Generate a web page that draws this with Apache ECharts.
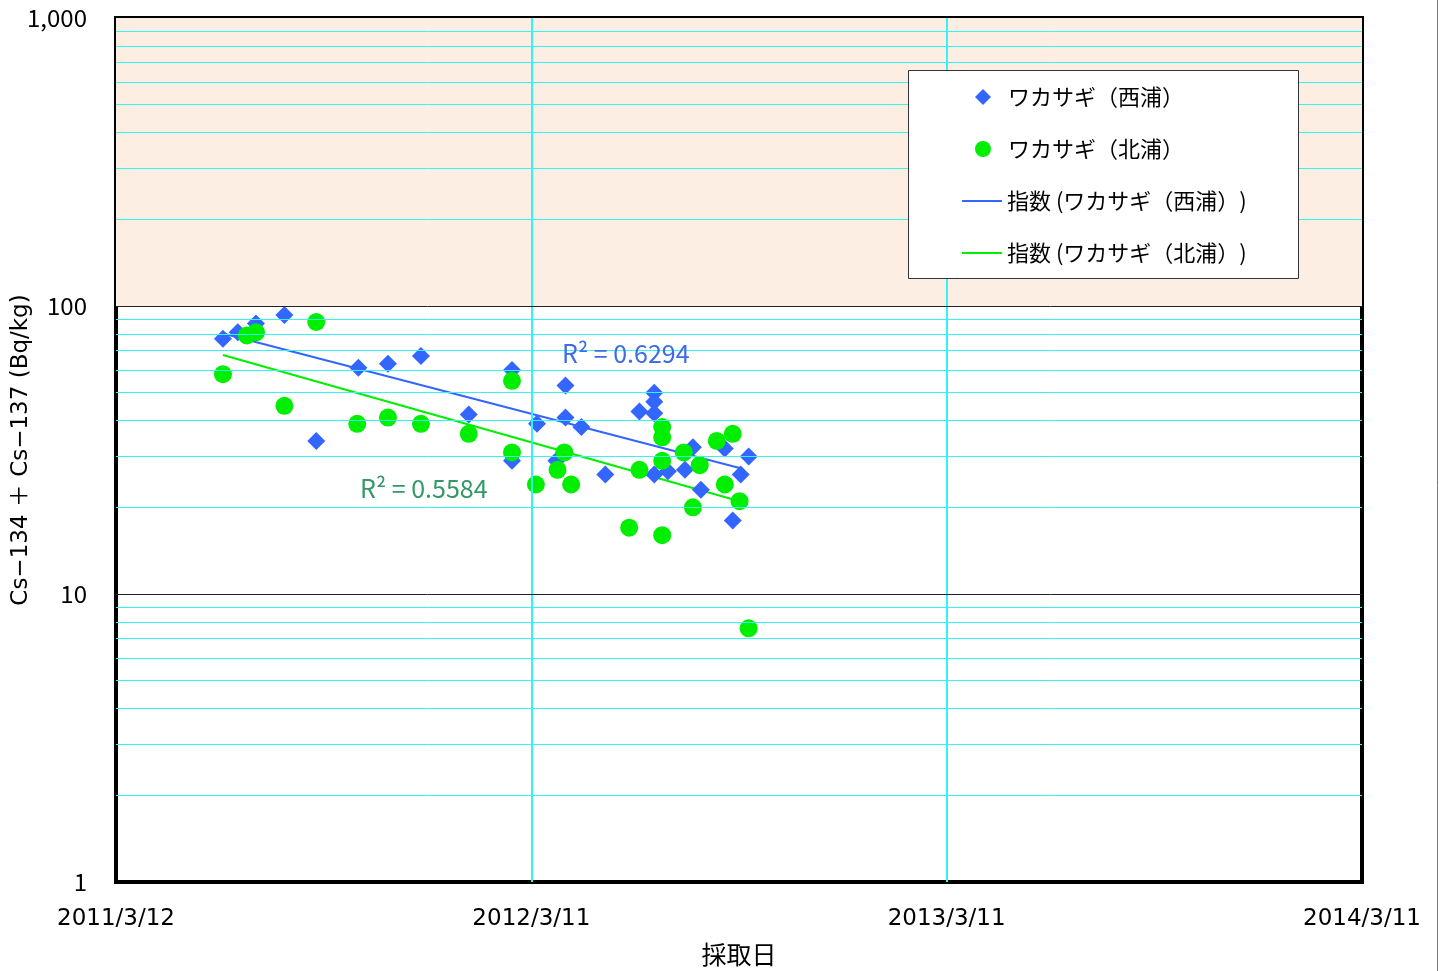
<!DOCTYPE html>
<html>
<head>
<meta charset="utf-8">
<script src="https://cdn.jsdelivr.net/npm/echarts@6/dist/echarts.min.js"></script>
<style>
  html, body { margin: 0; padding: 0; background: #fff; }
  #chart { width: 1440px; height: 971px; }
</style>
</head>
<body>
<div id="chart"></div>
<script>
// ワカサギ(西浦)
const nishiuraDates = [
  '2011-06-14', '2011-06-27', '2011-07-13', '2011-08-07', '2011-09-04',
  '2011-10-11', '2011-11-06', '2011-12-05', '2012-01-16', '2012-02-23',
  '2012-02-23', '2012-03-16', '2012-04-02', '2012-04-10', '2012-04-10',
  '2012-04-24', '2012-05-15', '2012-06-14', '2012-06-27', '2012-06-27',
  '2012-06-27', '2012-06-27', '2012-07-09', '2012-07-24', '2012-07-31',
  '2012-08-07', '2012-08-28', '2012-09-04', '2012-09-11', '2012-09-18'
]
const nishiuraValues = [
  77, 81, 87, 93, 34,
  61, 63, 67, 42, 60,
  29, 39, 29, 53, 41,
  38, 26, 43, 50, 46.5,
  42.4, 26, 26.7, 27, 32.3,
  23, 32, 18, 26, 30
]
// ワカサギ(北浦)
const kitauraDates = [
  '2011-06-14', '2011-07-05', '2011-07-13', '2011-08-07', '2011-09-04',
  '2011-10-10', '2011-11-06', '2011-12-05', '2012-01-16', '2012-02-23',
  '2012-02-23', '2012-03-15', '2012-04-03', '2012-04-09', '2012-04-15',
  '2012-06-05', '2012-06-14', '2012-07-04', '2012-07-04', '2012-07-04',
  '2012-07-04', '2012-07-23', '2012-07-31', '2012-08-06', '2012-08-21',
  '2012-08-28', '2012-09-04', '2012-09-10', '2012-09-18'
]
const kitauraValues = [
  58, 79, 81, 45, 88,
  39, 41, 39, 36, 55,
  31, 24, 27, 31, 24,
  17, 27, 38, 35, 29,
  16, 31, 20, 28, 34,
  24, 36, 21, 7.6
]
// 指数近似 (ends)
const trendDates = ['2011-06-14', '2012-09-10']
const trendNishiuraValues = [80.3, 27.4]
const trendKitauraValues = [67.6, 21.0]

const xTickLabels = ['2011/3/12', '2012/3/11', '2013/3/11', '2014/3/11']
const yMajorLines = [10, 100]
const yMinorLines = [2, 3, 4, 5, 6, 7, 8, 9, 20, 30, 40, 50, 60, 70, 80, 90, 200, 300, 400, 500, 600, 700, 800, 900]
const xGridLines = [365, 730]

const START = Date.UTC(2011, 2, 12)
function dayOf(s) {
  const p = s.split('-').map(Number)
  return (Date.UTC(p[0], p[1] - 1, p[2]) - START) / 86400000
}
function pairs(dates, values) {
  return dates.map((d, i) => [dayOf(d), values[i]])
}

const FONT = '"Noto Sans CJK JP", "Noto Sans", sans-serif'
const WIDE = '"DejaVu Sans", "Noto Sans CJK JP", sans-serif'
const BLUE = '#3366FF'
const GREEN = '#00EE00'
const CYAN = '#33F3F3'

const NAME_W = 'ワカサギ（西浦）'
const NAME_K = 'ワカサギ（北浦）'
const NAME_TW = '指数 (ワカサギ（西浦）)'
const NAME_TK = '指数 (ワカサギ（北浦）)'

const chart = echarts.init(document.getElementById('chart'))

const legendBase = {
  orient: 'vertical',
  padding: 0,
  itemWidth: 40,
  itemHeight: 16,
  itemGap: 30,
  z: 110,
  symbolKeepAspect: true,
  selectedMode: false,
  textStyle: { fontSize: 22, lineHeight: 22, color: '#000', fontFamily: FONT }
}

const option = {
  animation: false,
  textStyle: { fontFamily: FONT, color: '#000' },
  grid: {
    left: 116,
    right: 78,
    top: 18,
    bottom: 89,
    show: true,
    borderColor: '#000',
    borderWidth: 4,
    backgroundColor: 'transparent',
    containLabel: false,
    outerBoundsMode: 'none'
  },
  xAxis: {
    type: 'value',
    min: 0,
    max: 1095,
    interval: 365,
    name: '採取日',
    nameLocation: 'middle',
    nameGap: 60,
    nameMoveOverlap: false,
    nameTextStyle: { fontSize: 25, color: '#000', fontFamily: FONT },
    axisLine: { show: false },
    axisTick: { show: false },
    splitLine: { show: false },
    axisLabel: {
      margin: 26,
      fontSize: 23,
      color: '#000',
      fontFamily: WIDE,
      formatter: v => xTickLabels[Math.round(v / 365)]
    }
  },
  yAxis: {
    type: 'log',
    logBase: 10,
    min: 1,
    max: 1000,
    name: 'Cs−134 ＋ Cs−137 (Bq/kg)',
    nameLocation: 'middle',
    nameGap: 83,
    nameMoveOverlap: false,
    nameTextStyle: { fontSize: 23, color: '#000', fontFamily: WIDE },
    axisLine: { show: false },
    axisTick: { show: false },
    splitLine: { show: false },
    axisLabel: {
      margin: 29,
      fontSize: 24,
      color: '#000',
      fontFamily: FONT,
      formatter: v => Math.round(v).toLocaleString('en-US')
    }
  },
  legend: [
    Object.assign({}, legendBase, {
      left: 975,
      top: 86,
      data: [
        { name: NAME_W, icon: 'path://M1,0L2,1L1,2L0,1Z' },
        { name: NAME_K, icon: 'circle' }
      ]
    }),
    Object.assign({}, legendBase, {
      left: 962,
      top: 190,
      data: [
        { name: NAME_TW, icon: 'path://M0,0L20,0L20,1L0,1Z' },
        { name: NAME_TK, icon: 'path://M0,0L20,0L20,1L0,1Z' }
      ]
    })
  ],
  graphic: [
    {
      type: 'rect',
      z: 100,
      shape: { x: 908.5, y: 70.5, width: 390, height: 208 },
      style: { fill: '#fff', stroke: '#333', lineWidth: 1 }
    },
    {
      type: 'text',
      z: 100,
      x: 562,
      y: 353,
      style: { text: 'R² = 0.6294', font: '25px ' + FONT, fill: '#3F6BE6', textVerticalAlign: 'middle' }
    },
    {
      type: 'text',
      z: 100,
      x: 360,
      y: 488,
      style: { text: 'R² = 0.5584', font: '25px ' + FONT, fill: '#339966', textVerticalAlign: 'middle' }
    },
    {
      type: 'line',
      z: 100,
      shape: { x1: 1437.5, y1: 0, x2: 1437.5, y2: 971 },
      style: { stroke: '#777', lineWidth: 1 }
    }
  ],
  series: [
    {
      // background band and gridlines
      name: 'bg',
      type: 'line',
      data: [],
      z: 1,
      silent: true,
      markArea: {
        silent: true,
        itemStyle: { color: '#FDEEE3' },
        data: [[{ yAxis: 100 }, { yAxis: 1000 }]]
      },
      markLine: {
        silent: true,
        symbol: ['none', 'none'],
        label: { show: false },
        animation: false,
        data: [
          ...yMinorLines.map(v => ({ yAxis: v, lineStyle: { color: CYAN, width: 1, type: 'solid' } })),
          ...xGridLines.map(v => ({ xAxis: v, lineStyle: { color: CYAN, width: 2, type: 'solid' } })),
          ...yMajorLines.map(v => ({ yAxis: v, lineStyle: { color: '#222', width: 1, type: 'solid' } }))
        ]
      }
    },
    {
      name: NAME_TW,
      type: 'line',
      z: 2,
      symbol: 'none',
      showSymbol: false,
      color: BLUE,
      lineStyle: { color: BLUE, width: 2 },
      data: pairs(trendDates, trendNishiuraValues)
    },
    {
      name: NAME_TK,
      type: 'line',
      z: 2,
      symbol: 'none',
      showSymbol: false,
      color: GREEN,
      lineStyle: { color: GREEN, width: 2 },
      data: pairs(trendDates, trendKitauraValues)
    },
    {
      name: NAME_W,
      type: 'scatter',
      z: 3,
      symbol: 'diamond',
      symbolSize: 18,
      itemStyle: { color: BLUE, opacity: 1 },
      data: pairs(nishiuraDates, nishiuraValues)
    },
    {
      name: NAME_K,
      type: 'scatter',
      z: 4,
      symbol: 'circle',
      symbolSize: 18,
      itemStyle: { color: GREEN, opacity: 1 },
      data: pairs(kitauraDates, kitauraValues)
    }
  ]
}

chart.setOption(option)
</script>
</body>
</html>
